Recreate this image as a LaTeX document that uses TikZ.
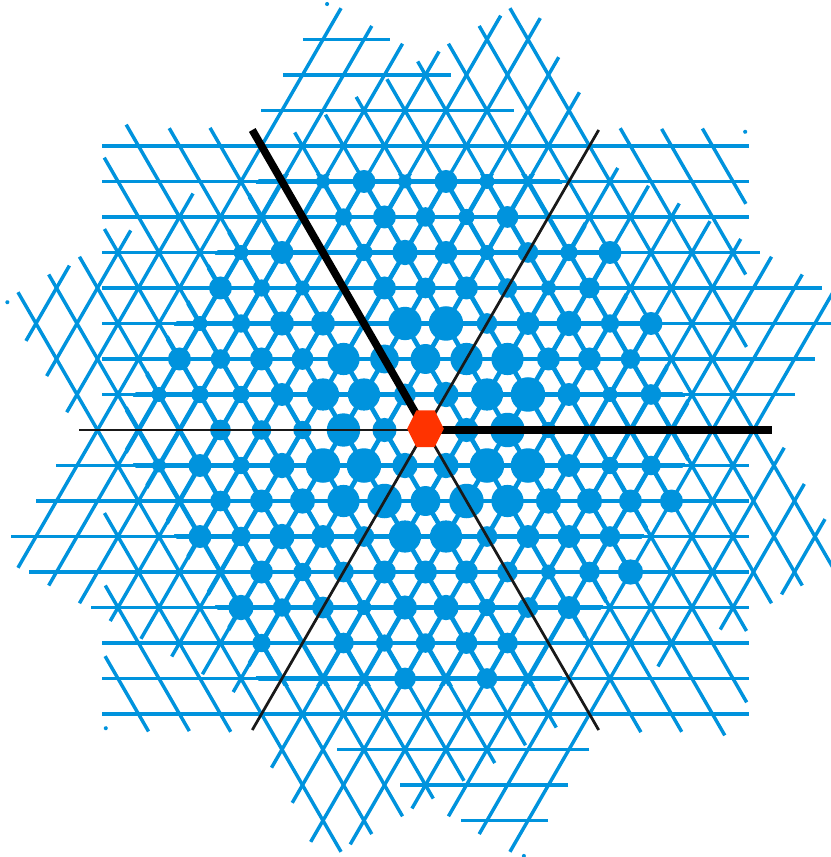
\documentclass[tikz,border=0pt]{standalone}
\usepackage{tikz}
\definecolor{wtblue}{RGB}{0,147,221}
\definecolor{wtred}{RGB}{255,51,0}

\begin{document}
\begin{tikzpicture}[x=1cm,y=1cm,
  lat/.style={wtblue,line width=2.4pt},
  latcore/.style={wtblue,line width=3.2pt},
  wall/.style={black!90,line width=1.9pt},
  wallthick/.style={black,line width=5.3pt}]
  \useasboundingbox (-10.378,-10.415) rectangle (9.89,10.488);
  \fill[white] (-10.378,-10.415) rectangle (9.89,10.488);
  \clip (-10.378,-10.415) rectangle (9.89,10.488);
  % half of the horizontal family (row/left/right), turned six times
  \foreach \r in {0,60,...,300}{
    \begin{scope}[rotate=\r]
      \foreach \k/\a/\b in {11/-2.99/-0.87, 10/-3.48/0.62, 9/-4.0/2.16,
          8/-7.88/7.88, 7/-7.88/7.88, 6/-7.88/7.88, 5/-7.88/8.16,
          4/-7.88/9.67, 3/-7.88/10.1, 2/-7.88/9.5, 1/-7.88/9.01}{
        \draw[lat] (\a,0.866*\k) -- (\b,0.866*\k);
      }
      \fill[wtblue] (-2.4,10.39) circle (0.05);
    \end{scope}
  }
  % heavier lines where the weights sit
  \begin{scope}
    \clip (6.8,0) -- (3.2,6.24) -- (-4.0,6.24) -- (-7.6,0) -- (-4.0,-6.24) -- (3.2,-6.24) -- cycle;
    \foreach \r in {0,60,...,300}{
      \foreach \k in {1,...,8}{
        \draw[latcore,rotate=\r] (-7.88,0.866*\k) -- (7.88,0.866*\k);
      }
    }
  \end{scope}
  % multiplicities: row/column/radius in px
  \foreach \k/\m/\s in {7/-5/6, 7/-3/10, 7/-1/6, 7/1/10, 7/3/6.5,
      6/-4/7.5, 6/-2/10, 6/0/8.5, 6/2/7, 6/4/9.5,
      5/-9/6.5, 5/-7/10, 5/-3/7.5, 5/-1/11, 5/1/10, 5/3/6.5, 5/5/9, 5/7/7.5, 5/9/10,
      4/-10/10, 4/-8/7.5, 4/-6/6.5, 4/-2/10, 4/0/9, 4/2/10, 4/4/8.5, 4/6/6.5, 4/8/9,
      3/-11/6.5, 3/-9/8, 3/-7/10.5, 3/-5/10.5, 3/-1/14.5, 3/1/15, 3/3/9, 3/5/10, 3/7/11, 3/9/8, 3/11/10,
      2/-12/10, 2/-10/8.5, 2/-8/10, 2/-6/9.5, 2/-4/14, 2/-2/12.5, 2/0/13, 2/2/14, 2/4/14, 2/6/10, 2/8/10, 2/10/8.5,
      1/-13/6.5, 1/-11/7.5, 1/-9/7.5, 1/-7/10, 1/-5/14, 1/-3/14, 1/-1/9.5, 1/1/11, 1/3/14, 1/5/15, 1/7/10, 1/9/6.5, 1/11/9,
      0/-10/9, 0/-8/8.5, 0/-6/8, 0/-4/14.5, 0/-2/10.5, 0/2/10.5, 0/4/15, 0/6/7,
      -1/-13/6, -1/-11/10, -1/-9/7.5, -1/-7/11, -1/-5/15, -1/-3/15, -1/-1/11, -1/1/11, -1/3/15, -1/5/15, -1/7/10, -1/9/7.5, -1/11/8.5,
      -2/-10/9, -2/-8/10, -2/-6/11, -2/-4/14, -2/-2/15, -2/0/13, -2/2/15, -2/4/14, -2/6/11, -2/8/11, -2/10/10, -2/12/10,
      -3/-11/10, -3/-9/8.5, -3/-7/11, -3/-5/10, -3/-3/9, -3/-1/14, -3/1/14, -3/3/9, -3/5/10, -3/7/10, -3/9/9,
      -4/-8/10, -4/-6/8, -4/-4/9, -4/-2/10, -4/0/10, -4/2/10, -4/4/9, -4/6/6.5, -4/8/9, -4/10/11,
      -5/-9/11, -5/-7/8, -5/-5/9.5, -5/-3/6.5, -5/-1/10.5, -5/1/11, -5/3/7.5, -5/5/9, -5/7/10,
      -6/-8/8, -6/-4/9, -6/-2/7.5, -6/0/8.5, -6/2/9.5, -6/4/9,
      -7/-1/9.5, -7/3/9}{
    \fill[wtblue] ({\m/2},{0.866*\k}) circle ({1.15*\s/41});
  }
  % walls through the origin
  \coordinate (O) at (0,0);
  \foreach \t in {0,60,...,300}{
    \coordinate (w\t) at (\t:8.45);
  }
  \foreach \t in {60,180,240,300}{
    \draw[wall] (O) -- (w\t);
  }
  \draw[wallthick] (O) -- (w0);
  \draw[wallthick] (O) -- (w120);
  \fill[wtred] (0.446,0.03) -- (0.224,0.476) -- (-0.224,0.476) -- (-0.446,0.03)
    -- (-0.224,-0.416) -- (0.224,-0.416) -- cycle;
\end{tikzpicture}
\end{document}
